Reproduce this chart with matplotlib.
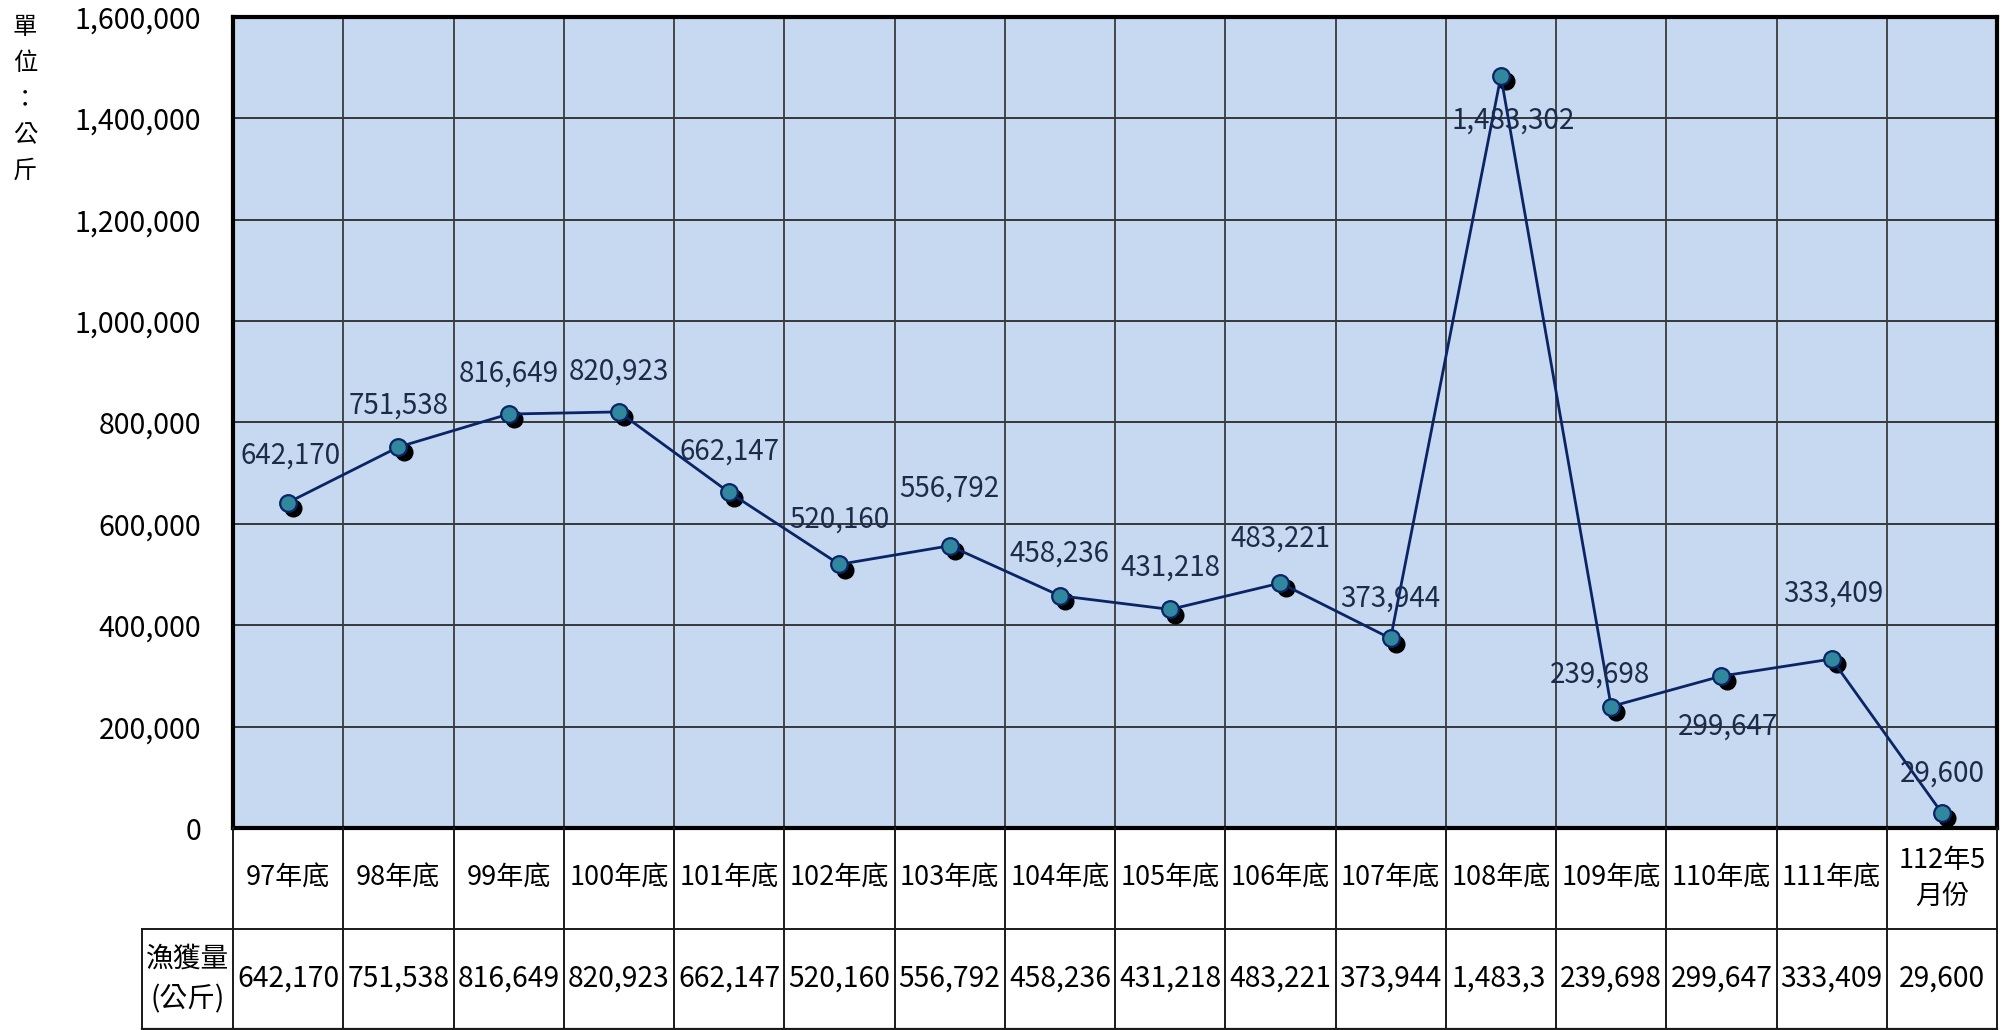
import numpy as np
import matplotlib
matplotlib.use('Agg')
import matplotlib.pyplot as plt
from matplotlib import transforms
from matplotlib.ticker import FuncFormatter

plt.rcParams['font.family'] = ['Noto Sans CJK TC', 'DejaVu Sans']

categories = ['97年底', '98年底', '99年底', '100年底', '101年底', '102年底', '103年底',
              '104年底', '105年底', '106年底', '107年底', '108年底', '109年底', '110年底',
              '111年底', '112年5\n月份']
catch = [642170, 751538, 816649, 820923, 662147, 520160, 556792, 458236,
         431218, 483221, 373944, 1483302, 239698, 299647, 333409, 29600]
row_label = '漁獲量\n(公斤)'
unit_label = '單\n位\n：\n公\n斤'

# label offsets in points (layout only)
lab_dx = [2, 0, 0, 0, 0, 0, 0, 0, 0, 0, 0, 9, -8, 5, 1, 0]
lab_dy = [34, 30, 29, 29, 29, 32, 41, 30, 30, 32, 29, -32, 23, -36, 47, 28]

W, H = 2004, 1030
fig = plt.figure(figsize=(W / 100, H / 100), dpi=100)

# plot area in pixels
px0, px1, py0, py1 = 233, 1997, 828, 17
ax = fig.add_axes([px0 / W, (H - py0) / H, (px1 - px0) / W, (py0 - py1) / H])
ax.set_facecolor('#C6D9F0')
x = np.arange(len(catch))
ax.set_xlim(-0.5, len(catch) - 0.5)
ax.set_ylim(0, 1600000)
ax.set_yticks(np.arange(0, 1600001, 200000))
ax.yaxis.set_major_formatter(FuncFormatter(lambda v, p: f'{int(v):,}'))
ax.tick_params(axis='y', labelsize=20.5, length=0, pad=23)
ax.set_xticks([])
for v in np.arange(200000, 1600000, 200000):
    ax.axhline(v, color='#2a2a2a', lw=1.3, zorder=1)
for xv in np.arange(0.5, len(catch) - 1, 1):
    ax.axvline(xv, color='#3a3a3a', lw=1.3, zorder=1)
for s in ax.spines.values():
    s.set_linewidth(3)
    s.set_color('black')

shadow = transforms.offset_copy(ax.transData, fig=fig, x=3.8, y=-3.8, units='points')
ax.plot(x, catch, 'o', ms=12, color='black', transform=shadow, zorder=2, clip_on=False)
ax.plot(x, catch, '-', color='#0B2466', lw=2, zorder=3, clip_on=False)
ax.plot(x, catch, 'o', ms=12, mfc='#31889E', mec='#0B2466', mew=1.6, zorder=4, clip_on=False)
for i, v in enumerate(catch):
    ax.annotate(f'{v:,}', (x[i], v), xytext=(lab_dx[i], lab_dy[i]), textcoords='offset points',
                ha='center', va='center', fontsize=20, color='#1C2B49', zorder=5)

fig.text(25 / W, 1 - 99 / H, unit_label, ha='center', va='center', fontsize=17.5,
         linespacing=1.5)

# data table under the chart
tx0, ty0, ty1 = 142, 1029, 828
colw = (px1 - px0) / len(catch)
lab_w = (px0 - tx0) / colw
tax = fig.add_axes([tx0 / W, (H - ty0) / H, (px1 - tx0) / W, (ty0 - ty1) / H])
tax.set_xlim(-0.5 - lab_w, len(catch) - 0.5)
tax.set_ylim(0, 2)
tax.axis('off')
lc = '#1a1a1a'
tax.plot([-0.5 - lab_w, len(catch) - 0.5], [0, 0], color=lc, lw=1.6, clip_on=False)
tax.plot([-0.5 - lab_w, len(catch) - 0.5], [1, 1], color=lc, lw=1.4, clip_on=False)
tax.plot([-0.5 - lab_w, -0.5 - lab_w], [0, 1], color=lc, lw=1.4, clip_on=False)
for i in range(len(catch) + 1):
    tax.plot([i - 0.5, i - 0.5], [0, 2], color=lc, lw=1.4, clip_on=False)
tax.text(-0.5 - lab_w / 2, 0.5, row_label, ha='center', va='center', fontsize=20,
         linespacing=1.45)

renderer = fig.canvas.get_renderer()
for i, c in enumerate(categories):
    tax.text(i, 1.5, c, ha='center', va='center', fontsize=19.5, linespacing=1.45)
    s = f'{catch[i]:,}'
    t = tax.text(i, 0.5, s, ha='center', va='center', fontsize=20.3)
    # cut characters that do not fit into the cell, as a spreadsheet does
    if t.get_window_extent(renderer).width > colw - 6:
        t.set_ha('left')
        t.set_x(i - 0.45)
        while t.get_window_extent(renderer).width > colw - 14:
            s = s[:-1]
            t.set_text(s)

fig.savefig('out.png', dpi=100)
